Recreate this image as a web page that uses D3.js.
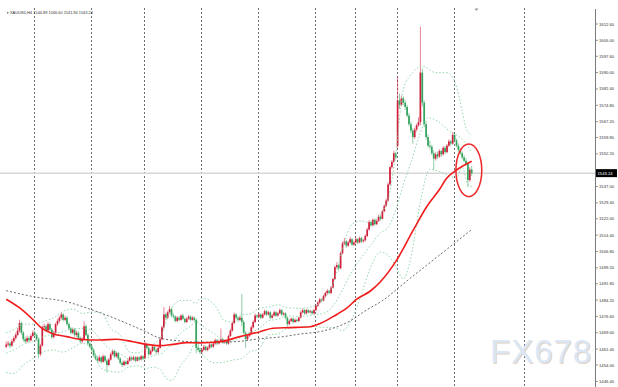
<!DOCTYPE html>
<html><head><meta charset="utf-8">
<script src="https://cdn.jsdelivr.net/npm/d3@7"></script>
<style>html,body{margin:0;padding:0;background:#fff;overflow:hidden}</style>
</head><body>
<svg id="c" width="618" height="387"></svg>
<script>
// ---------- DATA ----------
const symbol = "XAUUSD,H4";
const lastOHLC = [1544.89, 1546.60, 1541.94, 1543.24];
const lastPrice = 1543.24;
const watermark = "FX678";

// H4 candles [open, high, low, close], one array per trading week
const wkNov13 = [
 [1462.5,1465.0,1461.8,1463.5],[1463.5,1465.2,1462.6,1464.0],[1464.0,1464.8,1461.9,1463.0],[1463.0,1466.1,1462.5,1465.0],
 [1465.0,1467.4,1464.2,1466.5],[1466.5,1469.0,1465.8,1468.0],[1468.0,1471.2,1467.3,1470.0],[1470.0,1475.0,1469.1,1473.5],
 [1473.5,1474.2,1468.1,1469.0],[1469.0,1469.8,1464.9,1466.0],[1466.0,1467.2,1464.1,1465.0],[1465.0,1467.6,1464.3,1466.5],
 [1466.5,1467.3,1464.6,1465.5],[1465.5,1468.4,1465.0,1467.5],[1467.5,1470.1,1466.8,1469.0]];
const wkNov18 = [
 [1469.0,1469.9,1467.2,1468.0],[1468.0,1468.6,1465.1,1466.0],[1466.0,1466.8,1457.2,1459.0],[1459.0,1463.9,1458.1,1463.0],
 [1463.0,1472.4,1462.5,1471.5],[1471.5,1473.3,1470.4,1472.0],[1472.0,1472.8,1469.2,1470.0],[1470.0,1474.1,1469.5,1473.0],
 [1473.0,1473.7,1469.8,1470.5],[1470.5,1471.2,1466.1,1467.0],[1467.0,1469.8,1466.3,1469.0],[1469.0,1473.7,1468.5,1473.0],
 [1473.0,1475.4,1472.2,1474.5],[1474.5,1476.8,1473.6,1476.0],[1476.0,1478.6,1475.1,1477.5],[1477.5,1478.0,1474.2,1475.0],
 [1475.0,1476.9,1474.3,1476.0],[1476.0,1476.6,1472.2,1473.0],[1473.0,1473.9,1470.1,1471.0],[1471.0,1471.8,1468.2,1469.0],
 [1469.0,1471.4,1468.4,1470.5],[1470.5,1471.1,1467.2,1468.0],[1468.0,1469.9,1467.1,1469.0],[1469.0,1469.7,1465.8,1466.5],
 [1466.5,1467.3,1464.2,1465.0],[1465.0,1466.9,1464.1,1466.0],[1466.0,1474.3,1465.4,1472.0],[1472.0,1472.9,1467.3,1468.0],
 [1468.0,1468.7,1463.2,1464.0],[1464.0,1465.1,1461.7,1462.5]];
const wkNov25 = [
 [1462.5,1463.3,1460.2,1461.0],[1461.0,1461.8,1457.6,1458.5],[1458.5,1459.4,1456.2,1457.0],[1457.0,1458.1,1455.1,1456.0],
 [1456.0,1458.6,1455.4,1457.5],[1457.5,1458.2,1454.7,1455.5],[1455.5,1458.9,1455.0,1458.0],[1458.0,1458.7,1455.2,1456.0],
 [1456.0,1456.9,1450.5,1454.0],[1454.0,1457.3,1453.5,1456.5],[1456.5,1459.8,1456.0,1459.0],[1459.0,1461.3,1458.4,1460.5],
 [1460.5,1461.0,1457.2,1458.0],[1458.0,1460.2,1457.5,1459.5],[1459.5,1460.1,1456.3,1457.0],[1457.0,1457.7,1454.2,1455.0],
 [1455.0,1455.8,1453.1,1454.0],[1454.0,1456.3,1453.4,1455.5],[1455.5,1456.1,1453.8,1454.5],[1454.5,1456.7,1454.0,1456.0],
 [1456.0,1458.2,1455.5,1457.5],[1457.5,1458.0,1455.8,1456.5],[1456.5,1458.3,1456.0,1457.5],[1457.5,1458.1,1455.3,1456.0],
 [1456.0,1458.2,1455.6,1457.5],[1457.5,1458.0,1455.9,1456.5],[1456.5,1458.7,1456.1,1458.0],[1458.0,1458.5,1456.3,1457.0]];
const wkDec02 = [
 [1457.0,1465.0,1456.6,1463.5],[1463.5,1464.2,1461.3,1462.0],[1462.0,1462.6,1458.2,1459.0],[1459.0,1461.3,1458.5,1460.5],
 [1460.5,1463.2,1460.0,1462.5],[1462.5,1463.0,1460.3,1461.0],[1461.0,1461.6,1459.1,1460.0],[1460.0,1462.8,1459.4,1462.0],
 [1462.0,1466.9,1461.5,1466.0],[1466.0,1472.3,1465.4,1471.5],[1471.5,1481.0,1470.9,1477.5],[1477.5,1478.3,1475.1,1476.0],
 [1476.0,1479.2,1475.4,1478.5],[1478.5,1481.5,1477.9,1480.0],[1480.0,1480.6,1476.2,1477.0],[1477.0,1478.1,1475.6,1476.5],
 [1476.5,1477.1,1473.8,1474.5],[1474.5,1476.8,1474.0,1476.0],[1476.0,1476.7,1474.3,1475.0],[1475.0,1477.6,1474.5,1477.0],
 [1477.0,1477.8,1474.9,1475.5],[1475.5,1476.1,1473.3,1474.0],[1474.0,1476.2,1473.5,1475.5],[1475.5,1477.3,1475.0,1476.5],
 [1476.5,1477.1,1474.4,1475.0],[1475.0,1476.8,1474.6,1476.0],[1476.0,1476.6,1474.3,1475.0],[1475.0,1475.6,1459.5,1462.0],
 [1462.0,1463.1,1460.2,1461.0],[1461.0,1461.9,1459.2,1460.0]];
const wkDec09 = [
 [1460.0,1461.8,1459.4,1461.0],[1461.0,1463.3,1460.5,1462.5],[1462.5,1463.0,1460.3,1461.0],[1461.0,1462.7,1460.4,1462.0],
 [1462.0,1464.2,1461.5,1463.5],[1463.5,1464.0,1461.8,1462.5],[1462.5,1464.7,1462.0,1464.0],[1464.0,1466.3,1463.4,1465.5],
 [1465.5,1466.1,1463.2,1464.0],[1464.0,1465.8,1463.5,1465.0],[1465.0,1471.0,1464.4,1466.0],[1466.0,1466.7,1463.8,1464.5],
 [1464.5,1465.9,1463.9,1465.0],[1465.0,1465.6,1463.2,1464.0],[1464.0,1468.3,1463.5,1467.5],[1467.5,1470.8,1467.0,1470.0],
 [1470.0,1474.4,1469.5,1473.5],[1473.5,1478.4,1473.0,1477.5],[1477.5,1478.1,1475.2,1476.0],[1476.0,1476.7,1474.1,1475.0],
 [1475.0,1476.9,1474.4,1476.0],[1476.0,1487.0,1472.0,1474.0],[1474.0,1474.8,1468.2,1469.0],[1469.0,1469.7,1462.0,1466.0],
 [1466.0,1468.3,1465.4,1467.5],[1467.5,1469.2,1466.9,1468.5],[1468.5,1472.3,1468.0,1471.5],[1471.5,1474.8,1471.0,1474.0],
 [1474.0,1477.9,1473.5,1477.0],[1477.0,1477.6,1475.7,1476.5]];
const wkDec16 = [
 [1476.5,1478.3,1476.0,1477.5],[1477.5,1478.0,1475.3,1476.0],[1476.0,1478.2,1475.6,1477.5],[1477.5,1479.8,1477.0,1479.0],
 [1479.0,1479.6,1476.8,1477.5],[1477.5,1479.2,1477.0,1478.5],[1478.5,1479.0,1475.3,1476.0],[1476.0,1477.8,1475.5,1477.0],
 [1477.0,1479.3,1476.6,1478.5],[1478.5,1479.1,1476.3,1477.0],[1477.0,1478.7,1476.5,1478.0],[1478.0,1480.3,1477.6,1479.5],
 [1479.5,1480.0,1476.8,1477.5],[1477.5,1478.6,1477.0,1478.0],[1478.0,1478.5,1475.2,1476.0],[1476.0,1476.6,1471.8,1473.0],
 [1473.0,1475.2,1472.5,1474.5],[1474.5,1476.1,1474.0,1475.5],[1475.5,1476.0,1473.3,1474.0],[1474.0,1475.7,1473.5,1475.0],
 [1475.0,1475.6,1473.8,1474.5],[1474.5,1476.6,1474.0,1476.0],[1476.0,1479.2,1475.6,1478.5],[1478.5,1480.3,1478.0,1479.5],
 [1479.5,1480.0,1477.3,1478.0],[1478.0,1480.1,1477.5,1479.5],[1479.5,1480.0,1477.9,1478.5],[1478.5,1479.7,1478.0,1479.0],
 [1479.0,1479.6,1477.4,1478.0],[1478.0,1480.2,1477.6,1479.5]];
const wkDec23 = [
 [1479.5,1482.2,1479.0,1481.5],[1481.5,1483.7,1481.0,1483.0],[1483.0,1485.2,1482.5,1484.5],[1484.5,1485.1,1483.2,1484.0],
 [1484.0,1486.7,1483.5,1486.0],[1486.0,1488.2,1485.5,1487.5],[1487.5,1489.3,1487.0,1488.5],[1488.5,1489.0,1486.8,1487.5],
 [1487.5,1490.8,1487.0,1490.0],[1490.0,1494.7,1489.6,1494.0],[1494.0,1500.2,1493.5,1499.5],[1499.5,1501.8,1498.8,1500.5],
 [1500.5,1501.2,1497.6,1499.0],[1499.0,1506.8,1498.5,1506.0],[1506.0,1511.3,1505.4,1510.5],[1510.5,1513.0,1509.8,1511.5],
 [1511.5,1512.2,1508.3,1509.5],[1509.5,1511.8,1509.0,1511.0],[1511.0,1513.6,1510.4,1512.5],[1512.5,1513.1,1509.2,1510.0],
 [1510.0,1511.8,1509.4,1511.0]];
const wkDec30 = [
 [1511.0,1513.3,1510.5,1512.5],[1512.5,1513.0,1510.2,1511.0],[1511.0,1513.8,1510.6,1513.0],[1513.0,1513.6,1510.8,1511.5],
 [1511.5,1512.7,1510.9,1512.0],[1512.0,1514.8,1511.5,1514.0],[1514.0,1517.9,1513.5,1517.0],[1517.0,1521.4,1516.5,1520.5],
 [1520.5,1521.2,1518.2,1519.0],[1519.0,1522.3,1518.5,1521.5],[1521.5,1522.1,1518.8,1519.5],[1519.5,1521.8,1519.0,1521.0],
 [1521.0,1523.9,1520.5,1523.0],[1523.0,1523.7,1521.2,1522.0],[1522.0,1526.3,1521.6,1525.5],[1525.5,1528.8,1525.0,1528.0],
 [1528.0,1531.4,1527.4,1530.5],[1530.5,1539.0,1530.0,1538.0],[1538.0,1546.8,1537.4,1546.0],[1546.0,1549.4,1545.2,1548.5],
 [1548.5,1553.6,1548.0,1552.5],[1552.5,1553.1,1549.6,1550.5]];
const wkJan06 = [
 [1556.0,1588.0,1555.0,1577.0],[1577.0,1580.2,1573.1,1575.0],[1575.0,1579.3,1574.2,1578.0],[1578.0,1579.0,1574.8,1576.0],
 [1576.0,1577.1,1572.6,1574.0],[1574.0,1575.0,1569.2,1570.0],[1570.0,1571.3,1565.1,1566.0],[1566.0,1567.2,1561.8,1563.0],
 [1563.0,1564.1,1557.0,1560.0],[1560.0,1564.4,1559.2,1563.5],[1563.5,1566.2,1562.6,1565.5],[1565.5,1569.3,1564.8,1567.0],
 [1567.0,1611.3,1565.5,1590.0],[1590.0,1592.0,1574.3,1576.0],[1576.0,1577.1,1564.6,1566.0],[1566.0,1567.4,1558.9,1560.0],
 [1560.0,1561.2,1555.1,1556.0],[1556.0,1558.3,1554.2,1555.5],[1555.5,1556.4,1551.6,1552.5],[1552.5,1553.8,1544.6,1550.0],
 [1550.0,1552.9,1549.1,1552.0],[1552.0,1553.3,1549.8,1551.0],[1551.0,1554.4,1550.3,1553.5],[1553.5,1554.2,1550.9,1552.0],
 [1552.0,1555.8,1551.4,1555.0],[1555.0,1555.9,1552.2,1553.0],[1553.0,1556.8,1552.5,1556.0],[1556.0,1558.9,1555.4,1558.0],
 [1558.0,1558.7,1556.0,1557.0],[1557.0,1562.4,1556.5,1561.0]];
const wkJan13 = [
 [1561.0,1561.6,1557.8,1558.5],[1558.5,1559.2,1555.3,1556.0],[1556.0,1557.0,1553.2,1554.0],[1554.0,1555.1,1551.8,1552.5],
 [1552.5,1553.3,1549.7,1550.5],[1550.5,1551.6,1548.3,1549.0],[1549.0,1550.2,1546.8,1547.5],[1547.5,1548.1,1536.8,1540.0],
 [1540.0,1546.0,1539.2,1544.89],[1544.89,1546.60,1541.94,1543.24]];
const weeks = [wkNov13, wkNov18, wkNov25, wkDec02, wkDec09, wkDec16, wkDec23, wkDec30, wkJan06, wkJan13];
const futureWeekBar = 273;   // next week separator, drawn in the empty right area

// price axis tick labels
const priceTicks = [1612.60,1605.00,1597.60,1590.00,1582.40,1574.80,1567.20,1559.80,1552.20,
  1537.00,1529.40,1522.00,1514.40,1506.80,1499.20,1491.80,1484.20,1476.60,1469.00,1461.40,1454.00,1446.40];

// indicator lines: [bar index, price]
const maFast = [[0,1484.6],[7.3,1480.4],[14.3,1474.9],[18.7,1471.1],[23.9,1468.7],[31.8,1467.2],[38.8,1466.0],
 [49.4,1465.6],[58.2,1466.0],[66.9,1464.8],[73.9,1463.6],[80.9,1463.0],[87.9,1463.6],[95,1464.4],[102,1464.3],
 [112.5,1464.8],[123,1467.2],[133.6,1469.5],[140.4,1471.1],[149.4,1471.4],[160,1471.8],[165.2,1473.3],[172,1476.5],
 [179.2,1480.4],[184.5,1484.6],[191.5,1488.3],[196.7,1492.5],[205.5,1502.8],[214.3,1516.8],[221.3,1527.6],
 [228.3,1536.0],[231.6,1540.6],[237,1544.7],[245,1548.8]];
const maSlow = [[0,1488.6],[14.3,1485.8],[31.8,1483.4],[44,1480.0],[58.2,1475.3],[72.2,1470.0],[81,1466.5],
 [91.5,1465.2],[102,1464.6],[119.5,1464.8],[133.6,1466.2],[146,1467.2],[154.6,1468.4],[165,1469.5],[172,1471.1],
 [181,1474.5],[189.7,1479.6],[198.5,1484.2],[207.3,1490.5],[212.6,1494.3],[221.3,1500.4],[233.6,1509.0],[245,1517.0]];
const bbUpper = [[0,1469],[4,1470.5],[9,1473],[14,1473],[20,1474.3],[25,1476],[30,1479],[35,1480],[40,1478],
 [45,1478.6],[50,1478.5],[55,1471],[60,1468],[65,1460],[70,1459.6],[73,1461.6],[78,1464],[82,1468],[84,1474],
 [87,1480.4],[92,1484],[97,1484],[100,1482.7],[102,1485],[106,1484.5],[110,1481.5],[115,1474.6],[120,1474],
 [124,1477.5],[128,1477.7],[133,1480.3],[138,1481],[143,1482],[148,1480.6],[155,1480.4],[162,1481.3],[167,1484.6],
 [172,1491.5],[177,1508],[182,1519.5],[187,1521],[192,1520],[197,1524.5],[201,1531],[205,1552],[209,1582],
 [214,1590],[219,1593],[226,1590],[232,1590],[236,1586],[238,1580],[240,1572],[242.5,1563],[245,1561]];
const bbMiddle = [[0,1459.5],[4,1461],[9,1463.5],[14,1465],[20,1467.3],[25,1468.5],[30,1469.5],[35,1471],
 [40,1471],[45,1470.2],[50,1465.5],[55,1461],[60,1459.3],[65,1456.7],[70,1456.6],[73,1457],[78,1458.5],[82,1459.5],
 [84,1461],[87,1463.6],[92,1469],[97,1472],[100,1474.3],[102,1473],[106,1470.5],[110,1468.3],[115,1465],[120,1465.2],
 [124,1467.3],[128,1468.9],[133,1470.9],[138,1474.5],[143,1475.3],[148,1476.8],[155,1476.6],[162,1477.3],[167,1478],
 [172,1481.5],[177,1489],[182,1497.5],[187,1504],[192,1510],[197,1515.5],[201,1518],[205,1526],[209,1538],
 [213,1548],[218,1562],[222,1569],[227,1567.5],[233,1563],[240,1559],[245,1553]];
const bbLower = [[0,1450.5],[4,1450],[9,1454],[14,1457],[20,1460.3],[25,1461],[30,1460],[35,1462],[40,1464],
 [45,1461.8],[50,1452.5],[55,1451],[60,1450.7],[65,1453.3],[70,1453.6],[73,1452.4],[78,1453],[82,1451],[84,1448],
 [87,1446.8],[92,1454],[97,1460],[100,1465.9],[102,1461],[106,1456.5],[110,1455],[115,1455.4],[120,1456.4],
 [124,1457],[128,1460],[133,1461.5],[138,1468],[143,1468.5],[148,1471],[155,1471.5],[162,1472],[167,1471.4],
 [172,1471.5],[177,1470],[182,1475.5],[187,1487],[192,1500],[197,1506.5],[201,1505],[205,1500],[209,1494],
 [213,1504],[218,1530],[223,1545],[228,1544],[233,1542],[237,1541],[240,1546],[243,1538],[245,1537]];

// red ellipse annotation (bar range and price range it encloses)
const highlight = {barFrom: 236.7, barTo: 250.3, priceHigh: 1556.8, priceLow: 1532.3};

// ---------- DRAW ----------
const W = 618, H = 387;
const bars = weeks.flat();
const svg = d3.select("#c");
const x = d3.scaleLinear().domain([0, bars.length - 1]).range([6.2, 471.7]);
const y = d3.scaleLinear().domain([1454.0, 1612.6]).range([365, 24]);
const axisX = 595.5;
const font = "'Liberation Sans', Arial, sans-serif";

// week separators
const gridBars = [];
let acc = 0;
weeks.forEach((w, i) => { if (i > 0) gridBars.push(acc); acc += w.length; });
gridBars.push(futureWeekBar);
svg.append("g").selectAll("line").data(gridBars).join("line")
  .attr("x1", d => Math.floor(x(d)) + 0.5).attr("x2", d => Math.floor(x(d)) + 0.5)
  .attr("y1", 8).attr("y2", H)
  .attr("stroke", "#6e6e6e").attr("stroke-width", 1).attr("stroke-dasharray", "2,2");

// current price line
svg.append("line").attr("x1", 0).attr("x2", axisX)
  .attr("y1", y(lastPrice)).attr("y2", y(lastPrice))
  .attr("stroke", "#d6d6d6").attr("stroke-width", 1.5);

// candles
const cUp = "#cf1f3b", cDn = "#34a35e";
const cg = svg.append("g");
cg.selectAll("line").data(bars).join("line")
  .attr("x1", (d, i) => x(i)).attr("x2", (d, i) => x(i))
  .attr("y1", d => y(d[1])).attr("y2", d => y(d[2]))
  .attr("stroke", d => d[3] >= d[0] ? cUp : cDn)
  .attr("stroke-opacity", 0.55).attr("stroke-width", 1);
cg.selectAll("rect").data(bars).join("rect")
  .attr("x", (d, i) => x(i) - 0.85).attr("width", 1.7)
  .attr("y", d => y(Math.max(d[0], d[3])))
  .attr("height", d => Math.max(0.9, Math.abs(y(d[0]) - y(d[3]))))
  .attr("fill", d => d[3] >= d[0] ? cUp : cDn);

// lines
const line = d3.line().x(d => x(d[0])).y(d => y(d[1])).curve(d3.curveMonotoneX);
[bbUpper, bbMiddle, bbLower].forEach(s => {
  svg.append("path").attr("d", line(s)).attr("fill", "none")
    .attr("stroke", "#86d3a2").attr("stroke-width", 0.9).attr("stroke-dasharray", "1.5,2");
});
svg.append("path").attr("d", line(maSlow)).attr("fill", "none")
  .attr("stroke", "#5a5a5a").attr("stroke-width", 0.9).attr("stroke-dasharray", "2,2");
svg.append("path").attr("d", line(maFast)).attr("fill", "none")
  .attr("stroke", "#f01c1c").attr("stroke-width", 1.6);

// ellipse
svg.append("ellipse")
  .attr("cx", (x(highlight.barFrom) + x(highlight.barTo)) / 2)
  .attr("cy", (y(highlight.priceHigh) + y(highlight.priceLow)) / 2)
  .attr("rx", (x(highlight.barTo) - x(highlight.barFrom)) / 2)
  .attr("ry", (y(highlight.priceLow) - y(highlight.priceHigh)) / 2)
  .attr("fill", "none").attr("stroke", "#ee2a2a").attr("stroke-width", 1.5);

// watermark
const wm = svg.append("g").attr("font-family", font).attr("font-size", 33).attr("letter-spacing", 1);
wm.append("text").attr("x", 491).attr("y", 364).attr("fill", "#d8c6b4").attr("fill-opacity", 0.8).text(watermark);
wm.append("text").attr("x", 490).attr("y", 363).attr("fill", "#dce7f6").text(watermark);

// price axis
svg.append("rect").attr("x", axisX + 0.5).attr("y", 0).attr("width", W - axisX).attr("height", H).attr("fill", "#fff");
svg.append("line").attr("x1", axisX).attr("x2", axisX).attr("y1", 9).attr("y2", H)
  .attr("stroke", "#7a7a7a").attr("stroke-width", 1);
const ag = svg.append("g").attr("font-family", font).attr("font-size", 4.2).attr("fill", "#333");
ag.selectAll("line").data(priceTicks).join("line")
  .attr("x1", axisX).attr("x2", axisX + 2.5).attr("y1", d => y(d)).attr("y2", d => y(d))
  .attr("stroke", "#7a7a7a").attr("stroke-width", 0.8);
ag.selectAll("text").data(priceTicks).join("text")
  .attr("x", axisX + 3.5).attr("y", d => y(d) + 1.5).text(d => d.toFixed(2));

// last price label
svg.append("rect").attr("x", axisX + 0.5).attr("y", y(lastPrice) - 4).attr("width", 21).attr("height", 8).attr("fill", "#000");
svg.append("text").attr("x", axisX + 2).attr("y", y(lastPrice) + 1.5)
  .attr("font-family", font).attr("font-size", 4.2).attr("fill", "#fff").text(lastPrice.toFixed(2));

// header
svg.append("path").attr("d", "M7,11.5 L9,12.7 L7,13.9 Z").attr("fill", "#888");
svg.append("text").attr("x", 10).attr("y", 14).attr("font-family", font).attr("font-size", 3.9).attr("fill", "#333")
  .text(symbol + " " + lastOHLC.map(v => v.toFixed(2)).join(" "));

// chart shift marker
const sx = x(bars.length + 1.5);
svg.append("path").attr("d", `M${sx - 2},8.5 L${sx + 2},8.5 L${sx},11 Z`).attr("fill", "#9a9a9a");
</script>
</body></html>
